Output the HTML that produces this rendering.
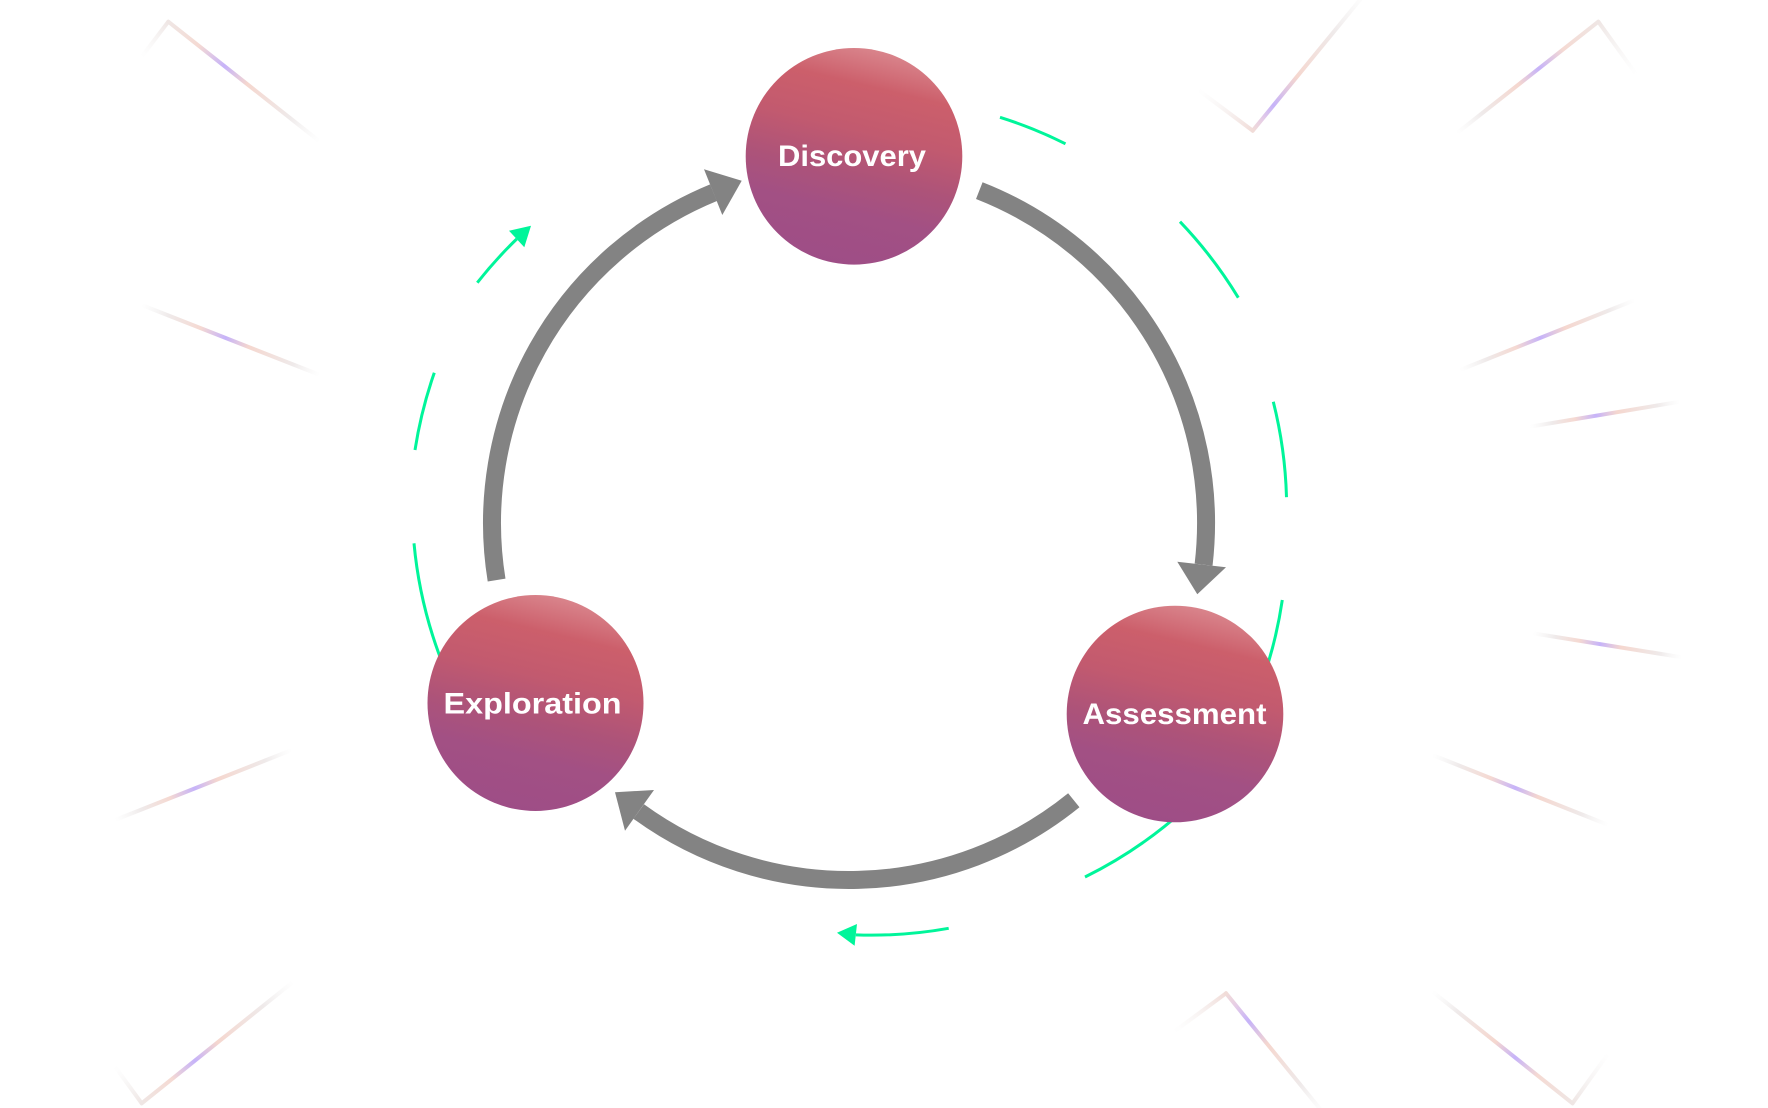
<!DOCTYPE html>
<html>
<head>
<meta charset="utf-8">
<style>
html,body{margin:0;padding:0;background:#ffffff;}
svg{display:block;}
</style>
</head>
<body>
<svg width="1768" height="1108" viewBox="0 0 1768 1108" xmlns="http://www.w3.org/2000/svg">
<defs>
  <linearGradient id="cg" x1="0.62" y1="0" x2="0.38" y2="1">
    <stop offset="0" stop-color="#da878e"/>
    <stop offset="0.18" stop-color="#cc5f6b"/>
    <stop offset="0.38" stop-color="#c25a6f"/>
    <stop offset="0.58" stop-color="#ad5379"/>
    <stop offset="0.75" stop-color="#a25084"/>
    <stop offset="1" stop-color="#9e4d86"/>
  </linearGradient>

  <linearGradient id="d1" gradientUnits="userSpaceOnUse" x1="168.3" y1="21.7" x2="320" y2="141.7">
    <stop offset="0" stop-color="#efe6e4"/><stop offset="0.2" stop-color="#f5dad3"/>
    <stop offset="0.37" stop-color="#c6b3f9"/><stop offset="0.52" stop-color="#f5d7cf"/>
    <stop offset="0.8" stop-color="#efeaea"/><stop offset="1" stop-color="#f4f4f4" stop-opacity="0"/>
  </linearGradient>
  <linearGradient id="s1" gradientUnits="userSpaceOnUse" x1="168.3" y1="21.7" x2="141.7" y2="56.7">
    <stop offset="0" stop-color="#efe6e4"/><stop offset="1" stop-color="#f2f2f2" stop-opacity="0"/>
  </linearGradient>

  <linearGradient id="d2" gradientUnits="userSpaceOnUse" x1="141.7" y1="305" x2="320" y2="375">
    <stop offset="0" stop-color="#f2f2f2" stop-opacity="0"/><stop offset="0.15" stop-color="#efeaea"/>
    <stop offset="0.33" stop-color="#f5d9d2"/><stop offset="0.47" stop-color="#c6b3f9"/>
    <stop offset="0.6" stop-color="#f5d7cf"/><stop offset="0.85" stop-color="#efeaea"/>
    <stop offset="1" stop-color="#f4f4f4" stop-opacity="0"/>
  </linearGradient>
  <linearGradient id="d3" gradientUnits="userSpaceOnUse" x1="115" y1="820" x2="291.7" y2="750">
    <stop offset="0" stop-color="#f2f2f2" stop-opacity="0"/><stop offset="0.15" stop-color="#efeaea"/>
    <stop offset="0.31" stop-color="#f5d9d2"/><stop offset="0.45" stop-color="#c6b3f9"/>
    <stop offset="0.58" stop-color="#f5d7cf"/><stop offset="0.85" stop-color="#efeaea"/>
    <stop offset="1" stop-color="#f4f4f4" stop-opacity="0"/>
  </linearGradient>
  <linearGradient id="d4" gradientUnits="userSpaceOnUse" x1="141.7" y1="1103.3" x2="293.3" y2="981.7">
    <stop offset="0" stop-color="#efe6e4"/><stop offset="0.2" stop-color="#f5dad3"/>
    <stop offset="0.35" stop-color="#c6b3f9"/><stop offset="0.5" stop-color="#f5d7cf"/>
    <stop offset="0.8" stop-color="#efeaea"/><stop offset="1" stop-color="#f4f4f4" stop-opacity="0"/>
  </linearGradient>
  <linearGradient id="s4" gradientUnits="userSpaceOnUse" x1="141.7" y1="1103.3" x2="115" y2="1066.7">
    <stop offset="0" stop-color="#efe6e4"/><stop offset="1" stop-color="#f2f2f2" stop-opacity="0"/>
  </linearGradient>

  <linearGradient id="d5" gradientUnits="userSpaceOnUse" x1="1252.7" y1="130.7" x2="1368" y2="-10">
    <stop offset="0" stop-color="#f1dcd8"/><stop offset="0.08" stop-color="#e6cde6"/>
    <stop offset="0.18" stop-color="#c6b3f9"/><stop offset="0.38" stop-color="#f5d7cf"/>
    <stop offset="0.7" stop-color="#efeaea"/><stop offset="1" stop-color="#f4f4f4" stop-opacity="0"/>
  </linearGradient>
  <linearGradient id="s5" gradientUnits="userSpaceOnUse" x1="1252.7" y1="130.7" x2="1198.3" y2="90">
    <stop offset="0" stop-color="#f1dcd8"/><stop offset="1" stop-color="#f2f2f2" stop-opacity="0"/>
  </linearGradient>

  <linearGradient id="d6" gradientUnits="userSpaceOnUse" x1="1598.3" y1="21.7" x2="1456.7" y2="133.3">
    <stop offset="0" stop-color="#efe6e4"/><stop offset="0.25" stop-color="#f5dad3"/>
    <stop offset="0.42" stop-color="#c6b3f9"/><stop offset="0.56" stop-color="#f5d7cf"/>
    <stop offset="0.82" stop-color="#efeaea"/><stop offset="1" stop-color="#f4f4f4" stop-opacity="0"/>
  </linearGradient>
  <linearGradient id="s6" gradientUnits="userSpaceOnUse" x1="1598.3" y1="21.7" x2="1636.7" y2="75">
    <stop offset="0" stop-color="#efe6e4"/><stop offset="1" stop-color="#f2f2f2" stop-opacity="0"/>
  </linearGradient>

  <linearGradient id="d7" gradientUnits="userSpaceOnUse" x1="1460" y1="370" x2="1635" y2="300">
    <stop offset="0" stop-color="#f2f2f2" stop-opacity="0"/><stop offset="0.15" stop-color="#efeaea"/>
    <stop offset="0.32" stop-color="#f5d9d2"/><stop offset="0.46" stop-color="#c6b3f9"/>
    <stop offset="0.6" stop-color="#f5d7cf"/><stop offset="0.85" stop-color="#efeaea"/>
    <stop offset="1" stop-color="#f4f4f4" stop-opacity="0"/>
  </linearGradient>
  <linearGradient id="d8" gradientUnits="userSpaceOnUse" x1="1530" y1="426.7" x2="1680" y2="401.7">
    <stop offset="0" stop-color="#f2f2f2" stop-opacity="0"/><stop offset="0.15" stop-color="#efeaea"/>
    <stop offset="0.3" stop-color="#f5d9d2"/><stop offset="0.44" stop-color="#c6b3f9"/>
    <stop offset="0.58" stop-color="#f5d7cf"/><stop offset="0.85" stop-color="#efeaea"/>
    <stop offset="1" stop-color="#f4f4f4" stop-opacity="0"/>
  </linearGradient>
  <linearGradient id="d9" gradientUnits="userSpaceOnUse" x1="1533" y1="633.3" x2="1682" y2="657.3">
    <stop offset="0" stop-color="#f2f2f2" stop-opacity="0"/><stop offset="0.15" stop-color="#efeaea"/>
    <stop offset="0.31" stop-color="#f5d9d2"/><stop offset="0.45" stop-color="#c6b3f9"/>
    <stop offset="0.59" stop-color="#f5d7cf"/><stop offset="0.85" stop-color="#efeaea"/>
    <stop offset="1" stop-color="#f4f4f4" stop-opacity="0"/>
  </linearGradient>
  <linearGradient id="d10" gradientUnits="userSpaceOnUse" x1="1432.5" y1="755" x2="1608.4" y2="825">
    <stop offset="0" stop-color="#f2f2f2" stop-opacity="0"/><stop offset="0.15" stop-color="#efeaea"/>
    <stop offset="0.33" stop-color="#f5d9d2"/><stop offset="0.47" stop-color="#c6b3f9"/>
    <stop offset="0.6" stop-color="#f5d7cf"/><stop offset="0.85" stop-color="#efeaea"/>
    <stop offset="1" stop-color="#f4f4f4" stop-opacity="0"/>
  </linearGradient>
  <linearGradient id="d11" gradientUnits="userSpaceOnUse" x1="1226" y1="993.3" x2="1325" y2="1115">
    <stop offset="0" stop-color="#f1dcd8"/><stop offset="0.1" stop-color="#e6cde6"/>
    <stop offset="0.23" stop-color="#c6b3f9"/><stop offset="0.42" stop-color="#f5d7cf"/>
    <stop offset="0.75" stop-color="#efeaea"/><stop offset="1" stop-color="#f4f4f4" stop-opacity="0"/>
  </linearGradient>
  <linearGradient id="s11" gradientUnits="userSpaceOnUse" x1="1226" y1="993.3" x2="1174" y2="1031.7">
    <stop offset="0" stop-color="#f1dcd8"/><stop offset="1" stop-color="#f2f2f2" stop-opacity="0"/>
  </linearGradient>
  <linearGradient id="d12" gradientUnits="userSpaceOnUse" x1="1572.5" y1="1103.3" x2="1432.5" y2="991.7">
    <stop offset="0" stop-color="#efe6e4"/><stop offset="0.25" stop-color="#f5dad3"/>
    <stop offset="0.41" stop-color="#c6b3f9"/><stop offset="0.55" stop-color="#f5d7cf"/>
    <stop offset="0.82" stop-color="#efeaea"/><stop offset="1" stop-color="#f4f4f4" stop-opacity="0"/>
  </linearGradient>
  <linearGradient id="s12" gradientUnits="userSpaceOnUse" x1="1572.5" y1="1103.3" x2="1608.4" y2="1053.3">
    <stop offset="0" stop-color="#efe6e4"/><stop offset="1" stop-color="#f2f2f2" stop-opacity="0"/>
  </linearGradient>
</defs>

<!-- background decorations -->
<g stroke-width="4" stroke-linecap="round" fill="none">
  <line x1="168.3" y1="21.7" x2="320" y2="141.7" stroke="url(#d1)"/>
  <line x1="168.3" y1="21.7" x2="141.7" y2="56.7" stroke="url(#s1)"/>
  <line x1="141.7" y1="305" x2="320" y2="375" stroke="url(#d2)"/>
  <line x1="115" y1="820" x2="291.7" y2="750" stroke="url(#d3)"/>
  <line x1="141.7" y1="1103.3" x2="293.3" y2="981.7" stroke="url(#d4)"/>
  <line x1="141.7" y1="1103.3" x2="115" y2="1066.7" stroke="url(#s4)"/>
  <line x1="1252.7" y1="130.7" x2="1368" y2="-10" stroke="url(#d5)"/>
  <line x1="1252.7" y1="130.7" x2="1198.3" y2="90" stroke="url(#s5)"/>
  <line x1="1598.3" y1="21.7" x2="1456.7" y2="133.3" stroke="url(#d6)"/>
  <line x1="1598.3" y1="21.7" x2="1636.7" y2="75" stroke="url(#s6)"/>
  <line x1="1460" y1="370" x2="1635" y2="300" stroke="url(#d7)"/>
  <line x1="1530" y1="426.7" x2="1680" y2="401.7" stroke="url(#d8)"/>
  <line x1="1533" y1="633.3" x2="1682" y2="657.3" stroke="url(#d9)"/>
  <line x1="1432.5" y1="755" x2="1608.4" y2="825" stroke="url(#d10)"/>
  <line x1="1226" y1="993.3" x2="1325" y2="1115" stroke="url(#d11)"/>
  <line x1="1226" y1="993.3" x2="1174" y2="1031.7" stroke="url(#s11)"/>
  <line x1="1572.5" y1="1103.3" x2="1432.5" y2="991.7" stroke="url(#d12)"/>
  <line x1="1572.5" y1="1103.3" x2="1608.4" y2="1053.3" stroke="url(#s12)"/>
</g>

<!-- green dashed connectors -->
<g stroke="#00f59a" stroke-width="3" fill="none">
  <path d="M1000,117.3 A440,440 0 0 1 1065.5,143.8"/>
  <path d="M1180,221.7 A440,440 0 0 1 1238.3,297.7"/>
  <path d="M1273.3,401.7 A440,440 0 0 1 1286.5,497.2"/>
  <path d="M1282.3,600 A440,440 0 0 1 1262,682"/>
  <path d="M1185,809 A440,440 0 0 1 1085,877"/>
  <path d="M948.7,928.3 A440,440 0 0 1 855.8,934.9"/>
  <path d="M414,543.3 A440,440 0 0 0 446,672"/>
  <path d="M434.3,372.7 A440,440 0 0 0 415,450"/>
  <path d="M477.3,282.7 A440,440 0 0 1 516.7,239"/>
</g>
<g fill="#00f59a">
  <polygon points="531,225.7 509,230.7 524.3,247.3"/>
  <polygon points="837,932.7 857,924 854.6,945.7"/>
</g>

<!-- gray main cycle arrows -->
<g stroke="#838383" stroke-width="18" fill="none">
  <path d="M979.3,190.6 A357,357 0 0 1 1203.6,564.7"/>
  <path d="M1073.8,800.3 A357,357 0 0 1 638.7,811.5"/>
  <path d="M496.6,580.1 A357,357 0 0 1 713.5,192.7"/>
</g>
<g fill="#838383">
  <polygon points="1177.3,561.7 1226,567.3 1197.3,594.3"/>
  <polygon points="615,792.3 654,790 625,830.7"/>
  <polygon points="704,169.3 741.7,180.7 722.3,215"/>
</g>

<!-- nodes -->
<circle cx="854" cy="156.3" r="108.3" fill="url(#cg)"/>
<circle cx="535.5" cy="703" r="108" fill="url(#cg)"/>
<circle cx="1175" cy="714" r="108.3" fill="url(#cg)"/>

<g font-family="'Liberation Sans', sans-serif" font-weight="bold" font-size="30" fill="#ffffff" text-anchor="middle">
  <text x="852" y="166" textLength="148" lengthAdjust="spacingAndGlyphs">Discovery</text>
  <text x="532.5" y="713.3" textLength="178" lengthAdjust="spacingAndGlyphs">Exploration</text>
  <text x="1174.5" y="724" textLength="184" lengthAdjust="spacingAndGlyphs">Assessment</text>
</g>
</svg>
</body>
</html>
